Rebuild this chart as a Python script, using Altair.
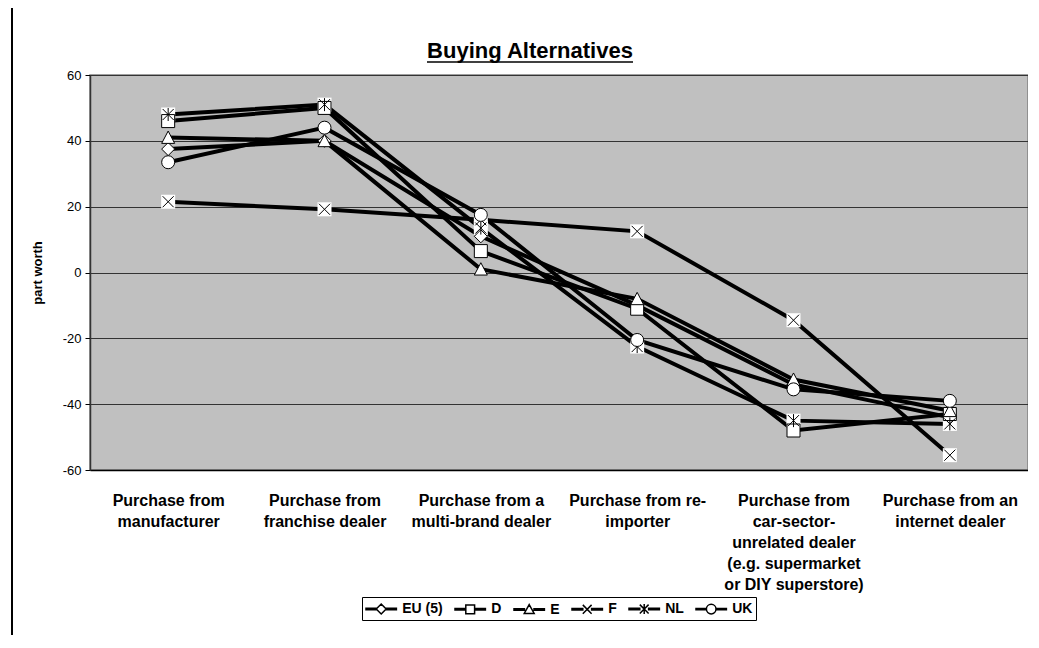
import altair as alt
import pandas as pd

# ---- data ----
title_text = ["Buying Alternatives"]
categories = [
    "Purchase from|manufacturer",
    "Purchase from|franchise dealer",
    "Purchase from a|multi-brand dealer",
    "Purchase from re-|importer",
    "Purchase from|car-sector-|unrelated dealer|(e.g. supermarket|or DIY superstore)",
    "Purchase from an|internet dealer",
]
series = ["EU (5)", "D", "E", "F", "NL", "UK"]
eu_values = [37.5, 40.0, 11.0, -10.0, -34.0, -44.0]
d_values = [46.0, 50.0, 6.5, -11.0, -48.0, -43.0]
e_values = [41.0, 40.0, 1.0, -8.0, -32.5, -42.0]
f_values = [21.5, 19.2, 16.0, 12.5, -14.5, -55.5]
nl_values = [48.0, 51.0, 13.5, -22.5, -45.0, -46.0]
uk_values = [33.5, 44.0, 17.5, -20.5, -35.5, -39.0]
y_ticks = [-60, -40, -20, 0, 20, 40, 60]

values_by_series = [eu_values, d_values, e_values, f_values, nl_values, uk_values]
rows = []
for s_idx, (name, vals) in enumerate(zip(series, values_by_series)):
    for c_idx, (cat, v) in enumerate(zip(categories, vals)):
        rows.append({"category": cat, "series": name, "value": v,
                     "cidx": c_idx, "sidx": s_idx})
df = pd.DataFrame(rows)

FONT = "Liberation Sans"

# marker shapes in the plot
plot_shapes = [
    "diamond",
    "square",
    "M0,-1L1,0.9L-1,0.9Z",
    "M-0.85,-0.85L0.85,0.85M-0.85,0.85L0.85,-0.85",
    "M-0.85,-0.85L0.85,0.85M-0.85,0.85L0.85,-0.85M0,-1L0,1",
    "circle",
]
# legend symbols: line segment + marker (unit = 8px)
def seg(m):
    return (f"M-1.9,-0.09H-{m}V0.09H-1.9Z"
            f"M{m},-0.09H1.9V0.09H{m}Z")

legend_shapes = [
    seg(0.62) + "M0,-0.62L0.62,0L0,0.62L-0.62,0Z",
    seg(0.55) + "M-0.55,-0.55H0.55V0.55H-0.55Z",
    seg(0.6) + "M0,-0.62L0.62,0.5H-0.62Z",
    seg(0.55) + "M-0.55,-0.55L0.55,0.55M-0.55,0.55L0.55,-0.55",
    seg(0.55) + "M-0.55,-0.55L0.55,0.55M-0.55,0.55L0.55,-0.55M0,-0.62L0,0.62",
    seg(0.6) + "M0.6,0A0.6,0.6 0 1,1 -0.6,0A0.6,0.6 0 1,1 0.6,0Z",
]

x_enc = alt.X(
    "category:N",
    sort=categories,
    scale=alt.Scale(domain=categories),
    axis=alt.Axis(
        title=None, labelAngle=0, ticks=False, domainColor="#000000", domainWidth=1.5,
        labelFontSize=16, labelFontWeight="bold", labelFont=FONT, labelColor="#000000",
        labelExpr="split(datum.label, '|')", labelLineHeight=21, labelPadding=22,
        labelLimit=300, grid=False,
    ),
)
y_enc = alt.Y(
    "value:Q",
    scale=alt.Scale(domain=[-60, 60], nice=False),
    axis=alt.Axis(
        values=y_ticks, grid=True, gridColor="#333333", gridWidth=1,
        tickColor="#000000", tickSize=5, domainColor="#333333", domainWidth=1.5,
        labelFontSize=13, labelFont=FONT, labelColor="#000000", labelPadding=4,
        labelExpr="datum.value + ''",
        title="part worth", titleFont=FONT, titleFontSize=13, titleFontWeight="bold",
        titleColor="#000000", titleAngle=270, titleX=-53, titleY=197.5,
        titleAlign="center", titleBaseline="middle",
    ),
)

base = alt.Chart(df)

lines = base.mark_line(color="#000000", strokeWidth=4).encode(
    x=x_enc, y=y_enc, detail="series:N", order=alt.Order("cidx:Q")
)

marker_bg = base.transform_filter(
    alt.FieldOneOfPredicate(field="series", oneOf=["F", "NL"])
).mark_point(shape="square", filled=True, fill="#ffffff", strokeWidth=0,
             size=196, opacity=1).encode(x=x_enc, y=y_enc)

markers = base.mark_point(fill="#ffffff", stroke="#000000", strokeWidth=1,
                          size=169, opacity=1, filled=True).encode(
    x=x_enc, y=y_enc,
    shape=alt.Shape("series:N", scale=alt.Scale(domain=series, range=plot_shapes),
                    legend=None),
    order=alt.Order("sidx:Q"),
)

legend_layer = base.transform_filter("false").mark_point(
    color="#000000", strokeWidth=1.5, filled=False, opacity=1
).encode(
    shape=alt.Shape(
        "series:N",
        scale=alt.Scale(domain=series, range=legend_shapes),
        legend=alt.Legend(
            title=None, orient="none", legendX=272, legendY=522,
            direction="horizontal", symbolSize=256, symbolStrokeWidth=1.5,
            symbolStrokeColor="#000000",
            labelFont=FONT, labelFontSize=14, labelFontWeight="bold",
            labelColor="#000000", labelOffset=12, columnPadding=9,
            strokeColor="#000000", fillColor="#ffffff", padding=3,
            symbolOffset=7.2,
        ),
    )
)

title_mark = alt.Chart(pd.DataFrame({"t": title_text})).mark_text(
    font=FONT, fontSize=22, fontWeight="bold", color="#000000",
    align="center", baseline="alphabetic",
).encode(text="t:N", x=alt.value(440), y=alt.value(-17))

underline = alt.Chart(pd.DataFrame({"u": [0]})).mark_rule(
    color="#000000", strokeWidth=1.5
).encode(x=alt.value(337), x2=alt.value(543), y=alt.value(-13))

frame_left = alt.Chart(pd.DataFrame({"u": [0]})).mark_rule(
    color="#000000", strokeWidth=2
).encode(x=alt.value(-78), y=alt.value(-67), y2=alt.value(560))

chart = (
    alt.layer(lines, marker_bg, markers, legend_layer, title_mark, underline, frame_left)
    .resolve_scale(shape="independent")
    .properties(
        width=938,
        height=395,
        padding={"left": 82, "top": 67, "right": 0, "bottom": 165},
        autosize=alt.AutoSizeParams(type="none"),
        background="#ffffff",
        view=alt.ViewBackground(fill="#C0C0C0", stroke="#808080", strokeWidth=1.5),
    )
    .configure_view(fill="#C0C0C0", stroke="#808080", strokeWidth=1.5)
)

chart.save("out.html", embed_options={"renderer": "svg", "actions": False})
